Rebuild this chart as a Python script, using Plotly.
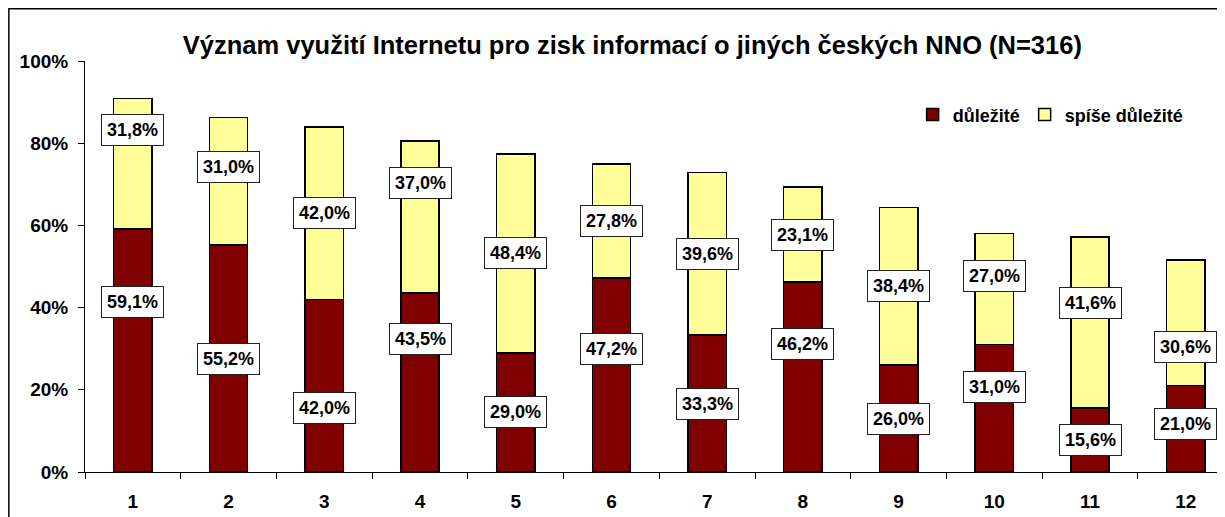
import plotly.graph_objects as go

categories = ["1", "2", "3", "4", "5", "6", "7", "8", "9", "10", "11", "12"]
dulezite = [59.1, 55.2, 42.0, 43.5, 29.0, 47.2, 33.3, 46.2, 26.0, 31.0, 15.6, 21.0]
spise_dulezite = [31.8, 31.0, 42.0, 37.0, 48.4, 27.8, 39.6, 23.1, 38.4, 27.0, 41.6, 30.6]
y_tick_vals = [0, 20, 40, 60, 80, 100]
y_tick_text = ["0%", "20%", "40%", "60%", "80%", "100%"]

# label placement heights (labels were hand-placed in the reference)
label_pos_dark = [41.4, 27.6, 15.5, 32.3, 14.5, 30.0, 16.6, 31.1, 13.0, 20.6, 7.8, 11.8]
label_pos_light = [83.2, 74.2, 63.0, 70.4, 53.2, 61.1, 53.1, 57.7, 45.2, 47.6, 41.2, 30.4]

FONT = "Arial, Liberation Sans, sans-serif"

def fmt(v):
    return f"{v:.1f}".replace(".", ",") + "%"

fig = go.Figure()
fig.add_trace(go.Bar(x=categories, y=dulezite, name="důležité",
                     marker=dict(color="#800000", line=dict(color="black", width=1.5)),
                     width=0.40))
fig.add_trace(go.Bar(x=categories, y=spise_dulezite, name="spíše důležité",
                     marker=dict(color="#FFFF99", line=dict(color="black", width=1.5)),
                     width=0.40))

for vals, poss in ((dulezite, label_pos_dark), (spise_dulezite, label_pos_light)):
    for i, (v, p) in enumerate(zip(vals, poss)):
        fig.add_annotation(x=i, y=p, xref="x", yref="y", text=fmt(v), showarrow=False,
                           font=dict(family=FONT, size=18, color="black", weight="bold"),
                           bgcolor="white", bordercolor="#222222", borderwidth=1, borderpad=5)

# outer chart border
fig.add_shape(type="rect", xref="paper", yref="paper",
              x0=-0.0668, x1=1.05, y0=-0.3, y1=1.127,
              line=dict(color="black", width=1.5), fillcolor="rgba(0,0,0,0)", layer="above")

fig.update_layout(
    barmode="stack",
    width=1217, height=509,
    margin=dict(l=77, r=0, t=53, b=45),
    paper_bgcolor="white", plot_bgcolor="white",
    font=dict(family=FONT, color="black"),
    title=dict(text="Význam využití Internetu pro zisk informací o jiných českých NNO (N=316)",
               x=0.513, xref="container", xanchor="center", y=0.927, yanchor="middle",
               font=dict(family=FONT, size=25.5, color="black", weight="bold")),
    showlegend=True,
    legend=dict(orientation="h", traceorder="normal", x=0.726, y=0.869, xanchor="left", yanchor="middle",
                font=dict(family=FONT, size=18, color="black", weight="bold"),
                bgcolor="rgba(0,0,0,0)"),
    xaxis=dict(type="category", range=[-0.5, 11.41], showline=True, linecolor="black", linewidth=1,
               ticks="outside", tickson="boundaries", ticklen=6, tickcolor="black",
               tickfont=dict(family=FONT, size=19, color="black", weight="bold"), ticklabelstandoff=12,
               showgrid=False, zeroline=False),
    yaxis=dict(range=[0, 100], tickvals=y_tick_vals, ticktext=y_tick_text,
               showline=True, linecolor="black", linewidth=1,
               ticks="outside", ticklen=6, tickcolor="black",
               tickfont=dict(family=FONT, size=19, color="black", weight="bold"), ticklabelstandoff=6,
               showgrid=False, zeroline=False),
)

fig.write_html("out.html")
